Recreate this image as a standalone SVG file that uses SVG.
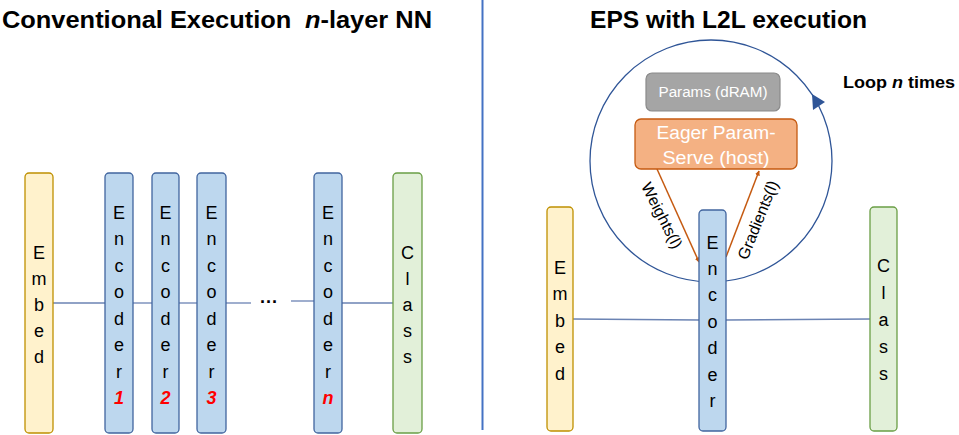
<svg xmlns="http://www.w3.org/2000/svg" width="959" height="435" viewBox="0 0 959 435">
<defs>
<style>
.title{font-family:"Liberation Sans",Arial,sans-serif;font-weight:bold;font-size:23px;fill:#000}
.v{font-family:"Liberation Sans",Arial,sans-serif;font-size:18px;fill:#000;text-anchor:middle}
.num{font-family:"Liberation Sans",Arial,sans-serif;font-size:18px;fill:#ff0000;font-weight:bold;font-style:italic;text-anchor:middle}
.embed{fill:#fff2cc;stroke:#bf9000;stroke-width:1.3}
.enc{fill:#bdd7ee;stroke:#41659f;stroke-width:1.3}
.cls{fill:#e2f0d9;stroke:#6a9e45;stroke-width:1.3}
.conn{stroke:#6b83b3;stroke-width:1.3;fill:none}
.orange{stroke:#c55a11;stroke-width:1.5;fill:none}
.lbl{font-family:"Liberation Sans",Arial,sans-serif;font-size:16px;fill:#000;text-anchor:middle}
</style>
<marker id="oa" viewBox="0 0 10 10" refX="9" refY="5" markerWidth="5" markerHeight="5" orient="auto" markerUnits="userSpaceOnUse"><path d="M0,0 L10,5 L0,10 z" fill="#c55a11"/></marker>
</defs>
<rect width="959" height="435" fill="#ffffff"/>

<text class="title" x="2" y="28" textLength="430" lengthAdjust="spacingAndGlyphs">Conventional Execution <tspan dx="6" font-style="italic">n</tspan>-layer NN</text>
<text class="title" x="590" y="28" textLength="277" lengthAdjust="spacingAndGlyphs">EPS with L2L execution</text>

<line x1="482.5" y1="0" x2="482.5" y2="430" stroke="#4472c4" stroke-width="2"/>

<g id="connectors">
<line class="conn" x1="53" y1="303" x2="105" y2="303"/>
<line class="conn" x1="133" y1="303" x2="152" y2="303"/>
<line class="conn" x1="179" y1="303" x2="197" y2="303"/>
<line class="conn" x1="226" y1="303" x2="251" y2="303"/>
<line class="conn" x1="291" y1="301" x2="314" y2="301"/>
<line class="conn" x1="342" y1="303" x2="393" y2="303"/>
<line class="conn" x1="573" y1="319" x2="699" y2="320"/>
<line class="conn" x1="726" y1="320" x2="870" y2="319"/>
<line class="orange" x1="657" y1="169" x2="699" y2="262" marker-end="url(#oa)"/>
<line class="orange" x1="726" y1="257" x2="759" y2="171" marker-end="url(#oa)"/>
<circle cx="711" cy="161" r="121" fill="none" stroke="#2f5597" stroke-width="1.3"/>
<path d="M812,94 L825,102 L813,110 z" fill="#2f5597"/>
</g>
<text x="260" y="308" font-family="Liberation Sans,Arial,sans-serif" font-size="18" font-weight="bold">···</text>

<g id="embed-left">
<rect class="embed" x="25" y="173" width="28" height="260" rx="4"/>
<text class="v" x="39" y="259">E</text><text class="v" x="39" y="285">m</text><text class="v" x="39" y="311">b</text><text class="v" x="39" y="337">e</text><text class="v" x="39" y="363">d</text>
</g>
<g id="encoder-1">
<rect class="enc" x="105" y="173" width="28" height="260" rx="4"/>
<text class="v" x="119" y="218.5">E</text><text class="v" x="119" y="245">n</text><text class="v" x="119" y="271.5">c</text><text class="v" x="119" y="298">o</text><text class="v" x="119" y="324.5">d</text><text class="v" x="119" y="351">e</text><text class="v" x="119" y="377.5">r</text><text class="num" x="119" y="404">1</text>
</g>
<g id="encoder-2">
<rect class="enc" x="152" y="173" width="27" height="260" rx="4"/>
<text class="v" x="165.5" y="218.5">E</text><text class="v" x="165.5" y="245">n</text><text class="v" x="165.5" y="271.5">c</text><text class="v" x="165.5" y="298">o</text><text class="v" x="165.5" y="324.5">d</text><text class="v" x="165.5" y="351">e</text><text class="v" x="165.5" y="377.5">r</text><text class="num" x="165.5" y="404">2</text>
</g>
<g id="encoder-3">
<rect class="enc" x="197" y="173" width="29" height="260" rx="4"/>
<text class="v" x="211.5" y="218.5">E</text><text class="v" x="211.5" y="245">n</text><text class="v" x="211.5" y="271.5">c</text><text class="v" x="211.5" y="298">o</text><text class="v" x="211.5" y="324.5">d</text><text class="v" x="211.5" y="351">e</text><text class="v" x="211.5" y="377.5">r</text><text class="num" x="211.5" y="404">3</text>
</g>
<g id="encoder-n">
<rect class="enc" x="314" y="173" width="28" height="260" rx="4"/>
<text class="v" x="328" y="218.5">E</text><text class="v" x="328" y="245">n</text><text class="v" x="328" y="271.5">c</text><text class="v" x="328" y="298">o</text><text class="v" x="328" y="324.5">d</text><text class="v" x="328" y="351">e</text><text class="v" x="328" y="377.5">r</text><text class="num" x="328" y="404">n</text>
</g>
<g id="class-left">
<rect class="cls" x="393" y="173" width="29" height="260" rx="4"/>
<text class="v" x="407.5" y="258.5">C</text><text class="v" x="407.5" y="285">l</text><text class="v" x="407.5" y="311">a</text><text class="v" x="407.5" y="337">s</text><text class="v" x="407.5" y="363">s</text>
</g>

<g id="embed-right">
<rect class="embed" x="547" y="207" width="26" height="224" rx="4"/>
<text class="v" x="560" y="273.5">E</text><text class="v" x="560" y="300">m</text><text class="v" x="560" y="326.7">b</text><text class="v" x="560" y="353.3">e</text><text class="v" x="560" y="380">d</text>
</g>
<g id="encoder-right">
<rect class="enc" x="699" y="210" width="27" height="221" rx="4"/>
<text class="v" x="712.5" y="248.5">E</text><text class="v" x="712.5" y="275">n</text><text class="v" x="712.5" y="301.3">c</text><text class="v" x="712.5" y="327.7">o</text><text class="v" x="712.5" y="354">d</text><text class="v" x="712.5" y="380.5">e</text><text class="v" x="712.5" y="407">r</text>
</g>
<g id="class-right">
<rect class="cls" x="870" y="207" width="27" height="224" rx="4"/>
<text class="v" x="883.5" y="271.5">C</text><text class="v" x="883.5" y="298.5">l</text><text class="v" x="883.5" y="325.5">a</text><text class="v" x="883.5" y="352.5">s</text><text class="v" x="883.5" y="379.5">s</text>
</g>

<g id="params">
<rect x="646" y="73" width="134" height="38" rx="6" fill="#a5a5a5" stroke="#8a8a8a" stroke-width="1.2"/>
<text x="713" y="97" font-family="Liberation Sans,Arial,sans-serif" font-size="14" fill="#ffffff" text-anchor="middle" textLength="109" lengthAdjust="spacingAndGlyphs">Params (dRAM)</text>
</g>
<g id="eager">
<rect x="635" y="119" width="162" height="50" rx="6" fill="#f4b183" stroke="#c55a11" stroke-width="1.3"/>
<text x="716" y="138.5" font-family="Liberation Sans,Arial,sans-serif" font-size="18" fill="#ffffff" text-anchor="middle" textLength="119" lengthAdjust="spacingAndGlyphs">Eager Param-</text>
<text x="716" y="164" font-family="Liberation Sans,Arial,sans-serif" font-size="18" fill="#ffffff" text-anchor="middle" textLength="107" lengthAdjust="spacingAndGlyphs">Serve (host)</text>
</g>

<text class="lbl" transform="translate(657,218) rotate(63)">Weights(l)</text>
<text class="lbl" transform="translate(763,222) rotate(-68)">Gradients(l)</text>

<text x="843" y="88" font-family="Liberation Sans,Arial,sans-serif" font-size="16" font-weight="bold" textLength="112" lengthAdjust="spacingAndGlyphs">Loop <tspan font-style="italic">n</tspan> times</text>
</svg>
